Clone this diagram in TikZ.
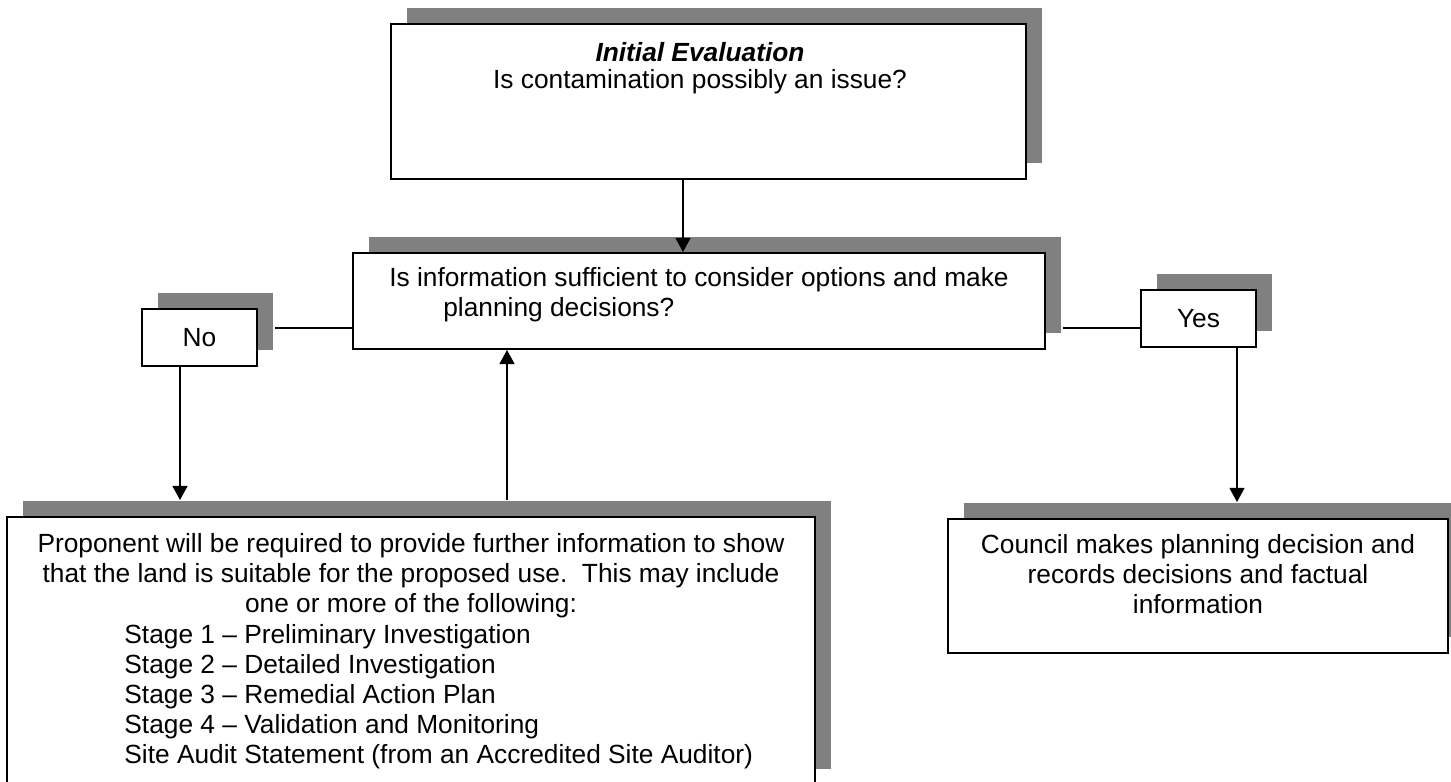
\documentclass[tikz,border=0pt]{standalone}
\usepackage{fontspec}
\setmainfont{Liberation Sans}
\usetikzlibrary{arrows.meta, shadows}
\definecolor{shade}{RGB}{128,128,128}
\newdimen\pix
\pix=0.4563pt

\tikzset{
    box/.style={draw, line width=0.9pt, fill=white, inner sep=0pt,
        general shadow={fill=shade, draw=none, shadow xshift=16\pix, shadow yshift=16\pix}},
    txt/.style={inner sep=0pt, align=center, font=\fontsize{12}{13.7}\selectfont},
    link/.style={line width=0.7pt},
    arrow/.style={link, -{Triangle[length=6.4pt, width=6.8pt]}}
}

\begin{document}
\begin{tikzpicture}[x=\pix, y=-\pix]

        \useasboundingbox (0, 0) rectangle (1451, 782);

        % boxes
        \node[box, minimum width=635\pix, minimum height=155\pix] (init) at (708.5, 101.5) {};
        \node[box, minimum width=692\pix, minimum height=96\pix] (info) at (699, 301) {};
        \node[box, txt, minimum width=115\pix, minimum height=57\pix] (no) at (199.5, 337.5) {No};
        \node[box, txt, minimum width=115\pix, minimum height=57\pix] (yes) at (1198.5, 318.5) {Yes};
        \node[box, minimum width=808\pix, minimum height=268\pix] (prop) at (411, 651) {};
        \node[box, minimum width=500\pix, minimum height=134\pix] (council) at (1198, 586) {};

        % texts
        \node[txt] (inittext) at (700, 68) {\textbf{\textit{Initial Evaluation}}\\[-1.5pt]Is contamination possibly an issue?};
        \node[txt, align=left] (infotext) at (699, 295) {Is information sufficient to consider options and make\\\hspace*{54\pix}planning decisions?};
        \node[txt] (proptext) at (411, 576) {Proponent will be required to provide further information to show\\that the land is suitable for the proposed use.\ \ This may include\\one or more of the following:};
        \node[txt, align=left, anchor=west] (stages) at (124, 697) {Stage 1 -- Preliminary Investigation\\Stage 2 -- Detailed Investigation\\Stage 3 -- Remedial Action Plan\\Stage 4 -- Validation and Monitoring\\Site Audit Statement (from an Accredited Site Auditor)};
        \node[txt] (counciltext) at (1198, 574) {Council makes planning decision and\\records decisions and factual\\information};

        % connectors
        \coordinate (nostub) at ([xshift=17\pix, yshift=9.5\pix]no.east);
        \coordinate (yesstub) at ([yshift=-9.5\pix]yes.west);
        \draw[link] (nostub) -- (nostub -| info.west);
        \draw[link] (yesstub) -- ++(-77, 0);

        \draw[arrow] ([xshift=-25.5\pix]init.south) -- ([xshift=-25.5\pix]info.north -| init.south);
        \draw[arrow, shorten >=16\pix] ([xshift=-19.5\pix]no.south) -- ([xshift=-19.5\pix]no.south |- prop.north);
        \draw[arrow, shorten <=16\pix] ([xshift=96\pix]prop.north) -- ([xshift=96\pix]prop.north |- info.south);
        \draw[arrow, shorten >=16\pix] ([xshift=38.5\pix]yes.south) -- ([xshift=38.5\pix]yes.south |- council.north);

\end{tikzpicture}
\end{document}
